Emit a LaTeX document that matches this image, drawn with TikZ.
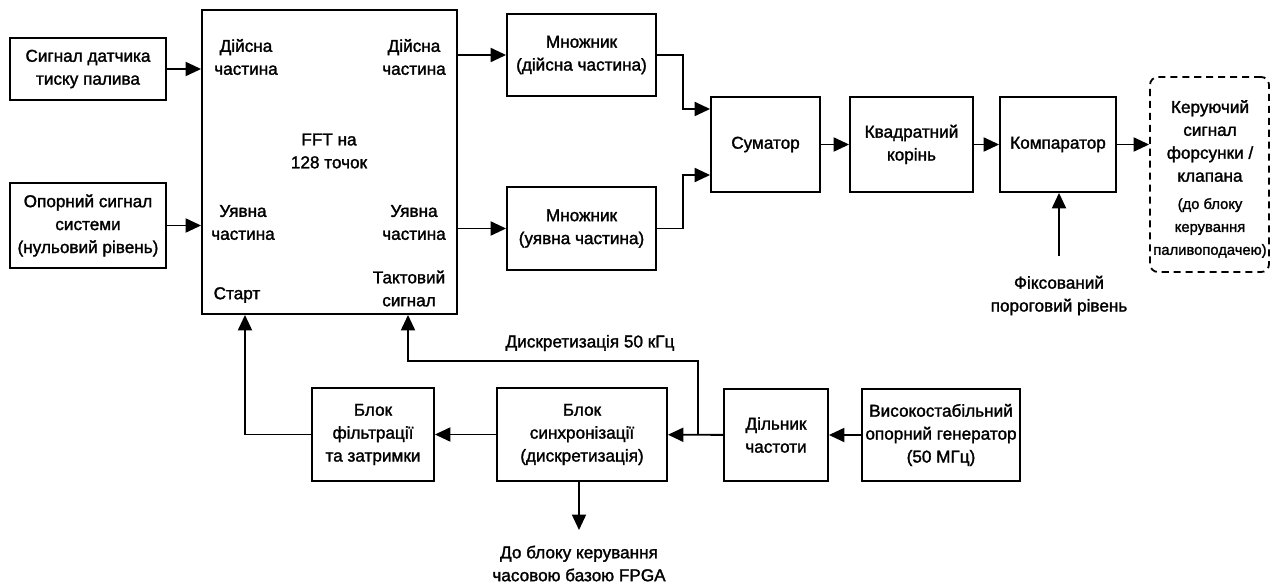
\documentclass[tikz,border=0pt]{standalone}
\usepackage{fontspec}
\setmainfont{Liberation Sans}[FakeBold=1.6]
\usetikzlibrary{arrows.meta}
\begin{document}
\begin{tikzpicture}[x=0.025cm,y=-0.025cm,
        font=\fontsize{12.2}{16.3}\selectfont,
        blok/.style={draw,line width=1.3pt,align=center,inner sep=0pt},
        tekst/.style={align=center,inner sep=1pt},
        pil/.style={line width=1.3pt,-{Triangle[length=11pt,width=10pt]}}]
        \useasboundingbox (0,0) rectangle (1279,584);
        \node[blok,minimum width=3.9cm,minimum height=1.55cm](sensor) at (88,69){Сигнал датчика\\тиску палива};
        \node[blok,minimum width=3.9cm,minimum height=2.125cm](refsig) at (88,225.5){Опорний сигнал\\системи\\(нульовий рівень)};
        \node[blok,minimum width=6.375cm,minimum height=7.6cm](fft) at (329.5,162){};
        \node[tekst](fftnaam) at (329,151){FFT на\\128 точок};
        \node[tekst](rein) at (246,57){Дійсна\\частина};
        \node[tekst](reuit) at (414,57){Дійсна\\частина};
        \node[tekst](imin) at (243,222.5){Уявна\\частина};
        \node[tekst](imuit) at (414,222.5){Уявна\\частина};
        \node[tekst](takt) at (409,288.5){Тактовий\\сигнал};
        \node[tekst](start) at (237,295){Старт};
        \node[blok,minimum width=3.725cm,minimum height=2.05cm](mulre) at (581.5,55){Множник\\(дійсна частина)};
        \node[blok,minimum width=3.725cm,minimum height=2.075cm](mulim) at (581.5,228.5){Множник\\(уявна частина)};
        \node[blok,minimum width=2.725cm,minimum height=2.375cm](sum) at (765.5,144.5){Суматор};
        \node[blok,minimum width=3.075cm,minimum height=2.375cm](sqrt) at (911.5,144.5){Квадратний\\корінь};
        \node[blok,minimum width=2.9cm,minimum height=2.375cm](comp) at (1058,144.5){Компаратор};
        \node[blok,dashed,dash pattern=on 5pt off 3.5pt,rounded corners=0.2cm,minimum width=2.975cm,minimum height=4.875cm](uit) at (1209.5,174.5){};
        \node[tekst](uittekst) at (1210,141){Керуючий\\сигнал\\форсунки /\\клапана};
        \node[tekst,font=\fontsize{10.5}{16.3}\selectfont](uitnoot) at (1210,228){(до блоку\\керування\\паливоподачею)};
        \node[tekst](drempel) at (1059,295.5){Фіксований\\пороговий рівень};
        \node[blok,minimum width=3.05cm,minimum height=2.325cm](filt) at (373,434.5){Блок\\фільтрації\\та затримки};
        \node[blok,minimum width=4.25cm,minimum height=2.325cm](sync) at (582,434.5){Блок\\синхронізації\\(дискретизація)};
        \node[blok,minimum width=2.6cm,minimum height=2.3cm](div) at (776,435){Дільник\\частоти};
        \node[blok,minimum width=3.95cm,minimum height=2.3cm](gen) at (941,435){Високостабільний\\опорний генератор\\(50 МГц)};
        \node[tekst](diskr) at (590,343){Дискретизація 50 кГц};
        \node[tekst,anchor=north](fpga) at (579,544){До блоку керування\\часовою базою FPGA};
        \coordinate (knoop) at (698,435);
        \coordinate (klok) at (408,361);

        \draw[pil](sensor.east) -- (sensor.east -| fft.west);
        \draw[pil](refsig.east) -- (refsig.east -| fft.west);
        \draw[pil](fft.east |- mulre.west) -- (mulre.west);
        \draw[pil](fft.east |- mulim.west) -- (mulim.west);
        \draw[pil](mulre.east) -- ++(26,0) |- ([yshift=0.8875cm]sum.west);
        \draw[pil](mulim.east) -- ++(26,0) |- ([yshift=-0.7625cm]sum.west);
        \draw[pil](sum) -- (sqrt);
        \draw[pil](sqrt) -- (comp);
        \draw[pil](comp.east) -- (comp.east -| uit.west);
        \draw[pil]([yshift=0.45cm]drempel.north) -- (drempel.north |- comp.south);
        \draw[pil](gen) -- (div);
        \draw[pil](div) -- (sync);
        \draw[pil](knoop) |- (klok) -- (klok |- fft.south);
        \draw[pil](sync) -- (filt);
        \draw[pil](filt.west) -| ([xshift=-2.1125cm]fft.south);
        \draw[pil](fpga.north |- sync.south) -- ([yshift=0.35cm]fpga.north);
    \end{tikzpicture}
\end{document}
